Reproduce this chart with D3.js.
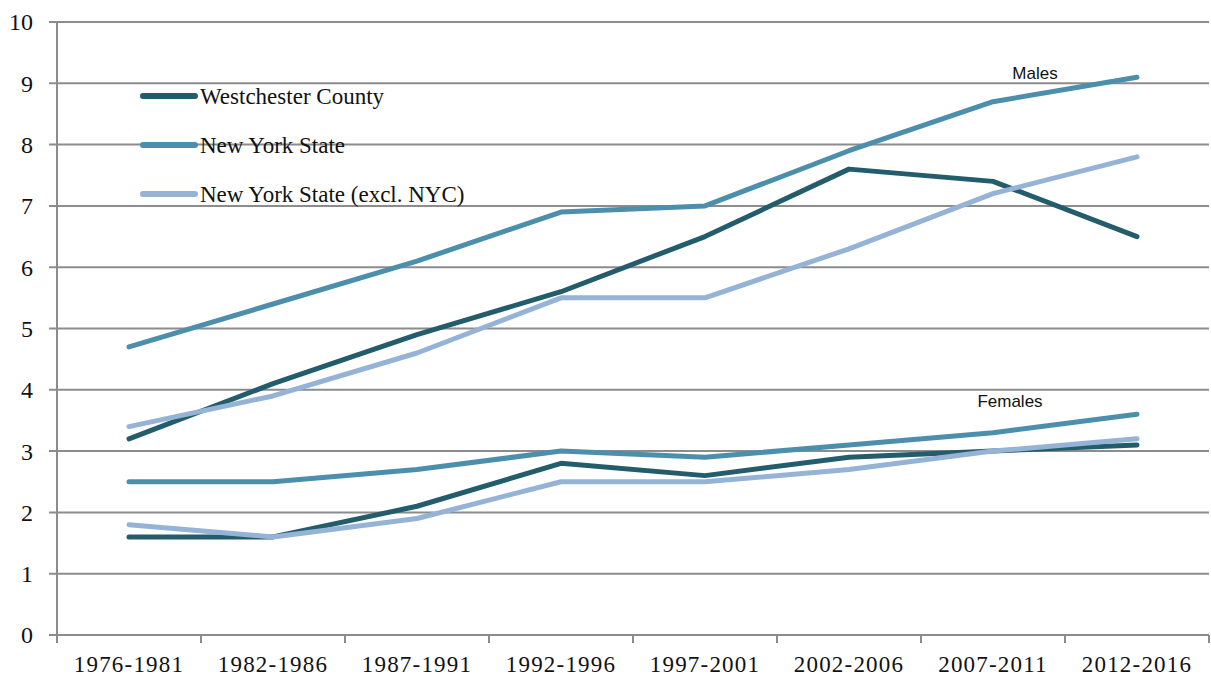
<!DOCTYPE html>
<html>
<head>
<meta charset="utf-8">
<script src="https://cdn.jsdelivr.net/npm/d3@7"></script>
<style>
  body { margin: 0; background: #fff; }
  svg { display: block; }
</style>
</head>
<body>
<div id="chart"></div>
<script>
// periods on the x axis
const periods = ["1976-1981", "1982-1986", "1987-1991", "1992-1996", "1997-2001", "2002-2006", "2007-2011", "2012-2016"];
const yTicks = [0, 1, 2, 3, 4, 5, 6, 7, 8, 9, 10];
const seriesNames = ["Westchester County", "New York State", "New York State (excl. NYC)"];
const seriesColors = ["#235c6b", "#4c8fad", "#95b3d7"];

// males
const westMale = [3.2, 4.1, 4.9, 5.6, 6.5, 7.6, 7.4, 6.5];
const nysMale = [4.7, 5.4, 6.1, 6.9, 7.0, 7.9, 8.7, 9.1];
const exclMale = [3.4, 3.9, 4.6, 5.5, 5.5, 6.3, 7.2, 7.8];
// females
const westFemale = [1.6, 1.6, 2.1, 2.8, 2.6, 2.9, 3.0, 3.1];
const nysFemale = [2.5, 2.5, 2.7, 3.0, 2.9, 3.1, 3.3, 3.6];
const exclFemale = [1.8, 1.6, 1.9, 2.5, 2.5, 2.7, 3.0, 3.2];

const width = 1211, height = 679;
const margin = { top: 22, right: 2, bottom: 44, left: 57 };

const svg = d3.select("#chart").append("svg")
  .attr("width", width)
  .attr("height", height);

const x = d3.scaleBand()
  .domain(periods)
  .range([margin.left, width - margin.right])
  .padding(0);

const y = d3.scaleLinear()
  .domain([0, 10])
  .range([height - margin.bottom, margin.top]);

const gridColor = "#8c8c8c";

// horizontal gridlines (with the little tick stubs on the left)
svg.append("g")
  .selectAll("line")
  .data(yTicks)
  .join("line")
  .attr("x1", margin.left - 8)
  .attr("x2", width - margin.right)
  .attr("y1", d => y(d))
  .attr("y2", d => y(d))
  .attr("stroke", gridColor)
  .attr("stroke-width", 2);

// y axis line
svg.append("line")
  .attr("x1", margin.left).attr("x2", margin.left)
  .attr("y1", y(10)).attr("y2", y(0) + 8)
  .attr("stroke", gridColor)
  .attr("stroke-width", 2);

// x axis tick marks at band edges
const edges = periods.map(p => x(p)).concat([x(periods[periods.length - 1]) + x.bandwidth()]);
svg.append("g")
  .selectAll("line")
  .data(edges)
  .join("line")
  .attr("x1", d => d).attr("x2", d => d)
  .attr("y1", y(0)).attr("y2", y(0) + 8)
  .attr("stroke", gridColor)
  .attr("stroke-width", 2);

// y labels
svg.append("g")
  .selectAll("text")
  .data(yTicks)
  .join("text")
  .attr("x", 33)
  .attr("y", d => y(d))
  .attr("dy", "0.35em")
  .attr("text-anchor", "end")
  .style("font-family", "'Liberation Serif', serif")
  .style("font-size", "24px")
  .attr("fill", "#111")
  .text(d => d);

// x labels
svg.append("g")
  .selectAll("text")
  .data(periods)
  .join("text")
  .attr("x", d => x(d) + x.bandwidth() / 2)
  .attr("y", 672)
  .attr("text-anchor", "middle")
  .style("font-family", "'Liberation Serif', serif")
  .style("font-size", "23px")
  .style("letter-spacing", "1.2px")
  .attr("fill", "#111")
  .text(d => d);

const line = d3.line()
  .x((d, i) => x(periods[i]) + x.bandwidth() / 2)
  .y(d => y(d));

const allSeries = [
  { values: westMale, color: seriesColors[0] },
  { values: nysMale, color: seriesColors[1] },
  { values: exclMale, color: seriesColors[2] },
  { values: westFemale, color: seriesColors[0] },
  { values: nysFemale, color: seriesColors[1] },
  { values: exclFemale, color: seriesColors[2] }
];

svg.append("g")
  .selectAll("path")
  .data(allSeries)
  .join("path")
  .attr("d", d => line(d.values))
  .attr("fill", "none")
  .attr("stroke", d => d.color)
  .attr("stroke-width", 5)
  .attr("stroke-linecap", "round")
  .attr("stroke-linejoin", "round");

// group labels
svg.append("text")
  .attr("x", 1035).attr("y", 79)
  .attr("text-anchor", "middle")
  .style("font-family", "'Liberation Sans', sans-serif")
  .style("font-size", "17px")
  .attr("fill", "#111")
  .text("Males");

svg.append("text")
  .attr("x", 1010).attr("y", 407)
  .attr("text-anchor", "middle")
  .style("font-family", "'Liberation Sans', sans-serif")
  .style("font-size", "17px")
  .attr("fill", "#111")
  .text("Females");

// legend
const legend = svg.append("g")
  .attr("transform", "translate(143, 96)");

const items = legend.selectAll("g")
  .data(seriesNames)
  .join("g")
  .attr("transform", (d, i) => `translate(0, ${i * 49})`);

items.append("line")
  .attr("x1", 0).attr("x2", 52)
  .attr("y1", 0).attr("y2", 0)
  .attr("stroke", (d, i) => seriesColors[i])
  .attr("stroke-width", 6)
  .attr("stroke-linecap", "round");

items.append("text")
  .attr("x", 57)
  .attr("y", 0)
  .attr("dy", "0.33em")
  .style("font-family", "'Liberation Serif', serif")
  .style("font-size", "23px")
  .attr("fill", "#111")
  .text(d => d);
</script>
</body>
</html>
